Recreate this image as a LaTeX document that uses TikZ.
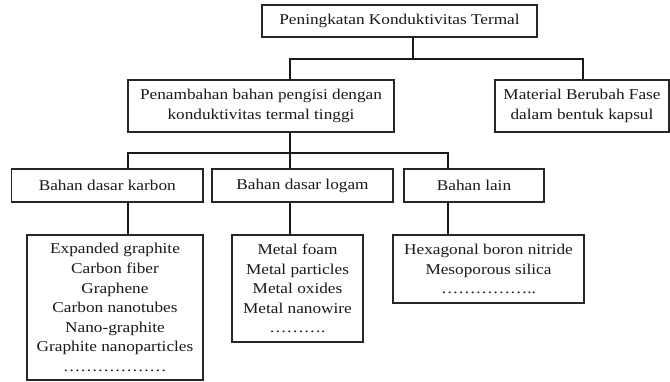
\documentclass[tikz,border=0pt]{standalone}
\usepackage{fontspec}
\setmainfont{Liberation Serif}[FakeStretch=1.15]
\begin{document}
\begin{tikzpicture}[x=1pt,y=-1pt,
  box/.style={draw=black!85, line width=1.2pt, inner sep=0pt, align=center,
    font=\fontsize{15}{19.6}\selectfont, text=black!90},
  conn/.style={draw=black!90, line width=1.3pt}]
\useasboundingbox (0,0) rectangle (670,381);
\node[box, minimum width=275, minimum height=32] (top) at (399.5,21) {Peningkatan Konduktivitas Termal};
\node[box, minimum width=266, minimum height=52] (pen) at (261,106) {Penambahan bahan pengisi dengan\\konduktivitas termal tinggi};
\node[box, minimum width=174, minimum height=52] (mat) at (582,106) {Material Berubah Fase\\dalam bentuk kapsul};
\node[box, minimum width=191.5, minimum height=33] (karbon) at (107.25,185.5) {Bahan dasar karbon};
\node[box, minimum width=181, minimum height=33] (logam) at (302.5,185.5) {Bahan dasar logam};
\node[box, minimum width=140, minimum height=33] (lain) at (474,185.5) {Bahan lain};
\node[box, minimum width=176, minimum height=145] (ckarbon) at (115,307.5) {Expanded graphite\\Carbon fiber\\Graphene\\Carbon nanotubes\\Nano-graphite\\Graphite nanoparticles\\………………};
\node[box, minimum width=131, minimum height=107] (clogam) at (297.5,288.5) {Metal foam\\Metal particles\\Metal oxides\\Metal nanowire\\……….};
\node[box, minimum width=191, minimum height=68] (clain) at (488.5,269) {Hexagonal boron nitride\\Mesoporous silica\\……………..};
\coordinate (b1) at (413,59);
\coordinate (p1) at (290,59);
\coordinate (m1) at (583,59);
\coordinate (b2) at (290,153);
\coordinate (k2) at (128,153);
\coordinate (l2) at (448,153);
\draw[conn] (b1 |- top.south) -- (b1);
\draw[conn] (p1 |- pen.north) -- (p1) -- (m1) -- (m1 |- mat.north);
\draw[conn] (b2 |- pen.south) -- (b2);
\draw[conn] (k2 |- karbon.north) -- (k2) -- (l2) -- (l2 |- lain.north);
\draw[conn] (b2) -- (b2 |- logam.north);
\draw[conn] (k2 |- karbon.south) -- (k2 |- ckarbon.north);
\draw[conn] (b2 |- logam.south) -- (b2 |- clogam.north);
\draw[conn] (l2 |- lain.south) -- (l2 |- clain.north);
\end{tikzpicture}
\end{document}
